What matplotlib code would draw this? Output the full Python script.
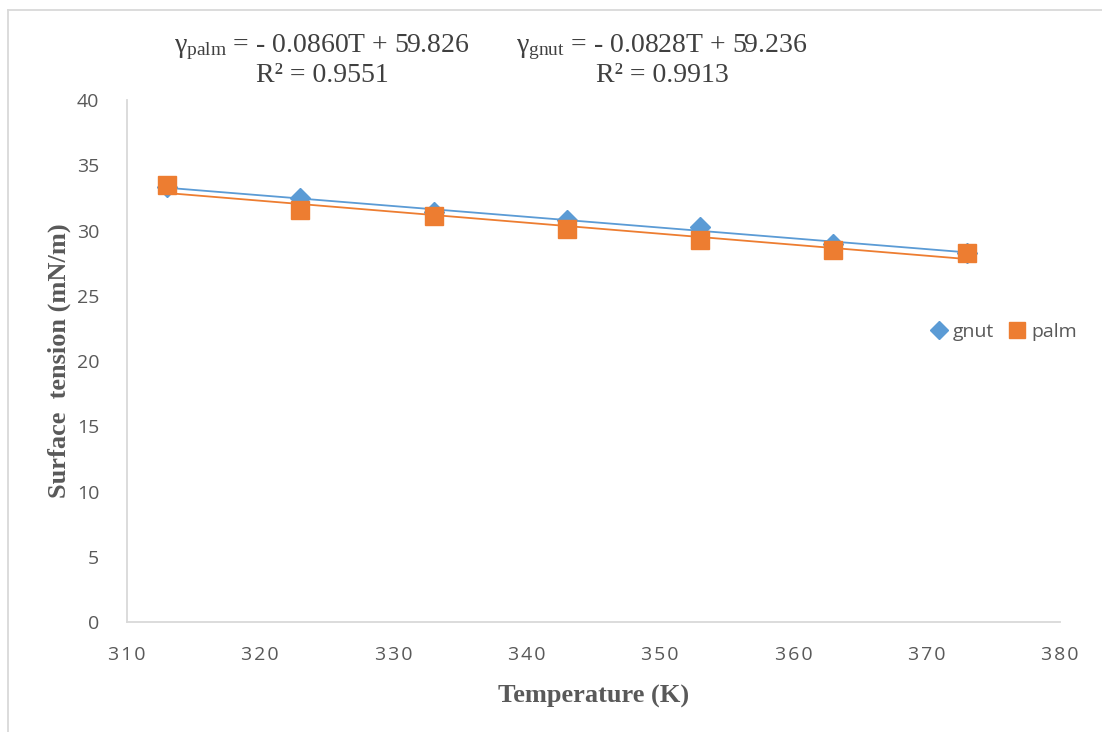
import numpy as np
import matplotlib
matplotlib.use("Agg")
import matplotlib.pyplot as plt
from matplotlib.lines import Line2D

temperature = [313, 323, 333, 343, 353, 363, 373]
gnut = [33.3, 32.5, 31.4, 30.8, 30.3, 29.0, 28.3]
palm = [33.5, 31.6, 31.1, 30.1, 29.3, 28.5, 28.3]
x_ticks = [310, 320, 330, 340, 350, 360, 370, 380]
y_ticks = [0, 5, 10, 15, 20, 25, 30, 35, 40]
eq_palm = "$\\mathrm{γ_{palm}}$ = - 0.0860T + 59.826\nR² = 0.9551"
eq_gnut = "$\\mathrm{γ_{gnut}}$ = - 0.0828T + 59.236\nR² = 0.9913"

BLUE = "#5B9BD5"
ORANGE = "#ED7D31"
GREY = "#595959"

plt.rcParams["mathtext.fontset"] = "custom"
plt.rcParams["mathtext.rm"] = "Liberation Serif"
plt.rcParams["mathtext.it"] = "Liberation Serif:italic"

fig = plt.figure(figsize=(11.02, 7.32), dpi=100)
ax = fig.add_axes([127/1102, 1-622/732, (1060-127)/1102, (622-100)/732])

T = np.array(temperature, dtype=float)
for ys, col in ((gnut, BLUE), (palm, ORANGE)):
    p = np.polyfit(T, np.array(ys), 1)
    ax.plot(T[[0, -1]], np.polyval(p, T[[0, -1]]), color=col, lw=1.3, zorder=2)

ax.plot(temperature, gnut, linestyle="none", marker="D", ms=10, color=BLUE, zorder=3)
ax.plot(temperature, palm, linestyle="none", marker="s", ms=12.5, color=ORANGE, zorder=4)

ax.set_xlim(310, 380)
ax.set_ylim(0, 40)
ax.set_xticks(x_ticks)
ax.set_yticks(y_ticks)
ax.set_xticklabels(["\u200a".join(str(v)) for v in x_ticks],
                   fontfamily=["Open Sans", "DejaVu Sans"], fontsize=14, color=GREY)
ax.set_yticklabels([str(v) for v in y_ticks], fontfamily="Open Sans", fontsize=14, color=GREY)
ax.tick_params(axis="both", length=0)
ax.tick_params(axis="y", pad=20)
ax.tick_params(axis="x", pad=17)
for s in ("top", "right"):
    ax.spines[s].set_visible(False)
for s in ("left", "bottom"):
    ax.spines[s].set_color("#D9D9D9")
    ax.spines[s].set_linewidth(1.3)

ax.set_xlabel("Temperature (K)", fontfamily="Liberation Serif", fontweight="bold",
              fontsize=19, color=GREY, labelpad=15)
ax.set_ylabel("Surface  tension (mN/m)", fontfamily="Liberation Serif", fontweight="bold",
              fontsize=19, color=GREY, labelpad=4)

fig.text(322/1102, 1-60/732, eq_palm, ha="center", va="center", multialignment="center",
         fontfamily="Liberation Serif", fontsize=20, color="#404040", linespacing=1.05)
fig.text(662/1102, 1-60/732, eq_gnut, ha="center", va="center", multialignment="center",
         fontfamily="Liberation Serif", fontsize=20, color="#404040", linespacing=1.05)

handles = [Line2D([], [], linestyle="none", marker="D", ms=9, color=BLUE),
           Line2D([], [], linestyle="none", marker="s", ms=11, color=ORANGE)]
fig.legend(handles, ["gnut", "palm"], loc="center", bbox_to_anchor=(1004/1102, 1-332/732),
           ncol=2, frameon=False, prop={"family": "Open Sans", "size": 14},
           labelcolor=GREY, handlelength=0.8, handletextpad=0.3, columnspacing=0.8)

# outer frame lines (top and left) as in reference
fig.add_artist(Line2D([8/1102, 8/1102], [0, 1-10/732], transform=fig.transFigure,
                      color="#D9D9D9", lw=1.3))
fig.add_artist(Line2D([8/1102, 1], [1-10/732, 1-10/732], transform=fig.transFigure,
                      color="#D9D9D9", lw=1.3))

fig.savefig("out.png", dpi=100, facecolor="white")
